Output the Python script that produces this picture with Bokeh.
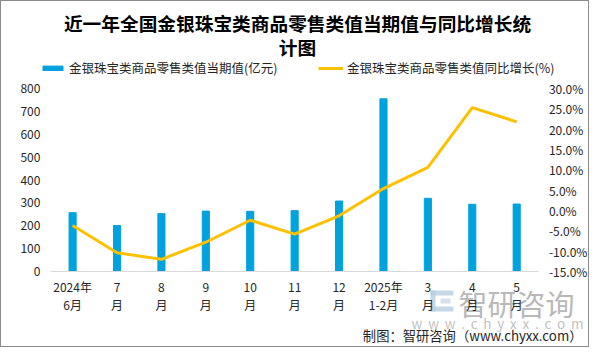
import numpy as np
from bokeh.plotting import figure
from bokeh.models import (Range1d, LinearAxis, Label, Legend, LegendItem, BoxAnnotation,
                          PrintfTickFormatter, FixedTicker, ColumnDataSource)
from bokeh.embed import file_html
from bokeh.resources import INLINE

# ---------------- data ----------------
categories = ["2024年\n6月", "7\n月", "8\n月", "9\n月", "10\n月", "11\n月",
              "12\n月", "2025年\n1-2月", "3\n月", "4\n月", "5\n月"]
retail_value = [257, 201, 253, 264, 263, 266, 308, 755, 320, 294, 295]   # 亿元
yoy_growth = [-3.7, -10.4, -12.0, -7.8, -2.4, -5.8, -1.3, 5.4, 10.6, 25.3, 21.8]  # %
left_ticks = [0, 100, 200, 300, 400, 500, 600, 700, 800]
right_ticks = [-15, -10, -5, 0, 5, 10, 15, 20, 25, 30]

title_lines = ["近一年全国金银珠宝类商品零售类值当期值与同比增长统", "计图"]
bar_name = "金银珠宝类商品零售类值当期值(亿元)"
line_name = "金银珠宝类商品零售类值同比增长(%)"
credit = "制图：智研咨询（www.chyxx.com）"
wm_name = "智研咨询"
wm_url = " \u2009".join("www.chyxx.com")

FONT = "Noto Sans CJK SC"
BAR_COLOR = "#00A2DE"
LINE_COLOR = "#FFC000"
TXT = "#262626"

# ---------------- layout (canvas pixels) ----------------
W, H = 589, 347
X_FIRST, X_STEP = 71.1, 44.41     # centre of first category, category pitch
Y_ZERO, Y_TOP = 270.0, 87.0       # baseline (0 / -15%) and top tick (800 / 30%)

L_MIN, L_MAX = left_ticks[0], left_ticks[-1]
R_MIN, R_MAX = right_ticks[0], right_ticks[-1]
lp = (L_MAX - L_MIN) / (Y_ZERO - Y_TOP)
rp = (R_MAX - R_MIN) / (Y_ZERO - Y_TOP)

x_range = Range1d(-X_FIRST / X_STEP, (W - X_FIRST) / X_STEP)
y_range = Range1d(L_MIN - (H - Y_ZERO) * lp, L_MAX + Y_TOP * lp)

idx = np.arange(len(categories))
src = ColumnDataSource(dict(x=idx, val=retail_value, yoy=yoy_growth))

p = figure(width=W, height=H, x_range=x_range, y_range=y_range,
           output_backend="svg", toolbar_location=None,
           min_border=0, x_axis_type=None, y_axis_type=None)
p.extra_y_ranges = {"pct": Range1d(R_MIN - (H - Y_ZERO) * rp, R_MAX + Y_TOP * rp)}
p.outline_line_color = None
p.grid.grid_line_color = None
p.styles = {"border": "1px solid #8c8c8c", "box-sizing": "border-box"}


def lab(x, y, text, size, color=TXT, bold=False, align="center", alpha=1.0, level="annotation"):
    # canvas px (from top-left) -> screen units (from bottom-left of frame = canvas)
    p.add_layout(Label(x=x, y=H - y, x_units="screen", y_units="screen",
                       text=text, text_font=FONT, text_font_size=f"{size}px",
                       text_font_style="bold" if bold else "normal",
                       text_color=color, text_alpha=alpha, level=level,
                       text_align=align, text_baseline="middle"))


def box(x0, y0, x1, y1, color, alpha):
    p.add_layout(BoxAnnotation(left=x0, right=x1, top=H - y0, bottom=H - y1,
                               left_units="screen", right_units="screen",
                               top_units="screen", bottom_units="screen",
                               fill_color=color, fill_alpha=alpha,
                               line_color=None, level="underlay"))


# watermark (drawn underneath everything)
WM_LOGO = "#b8cde0"
box(429, 289, 452, 294, WM_LOGO, 0.8)
box(429, 289, 434, 310, WM_LOGO, 0.8)
box(429, 305, 452, 310, WM_LOGO, 0.8)
box(439, 297, 449, 302, WM_LOGO, 0.6)
lab(515, 301, wm_name, 29, color="#a6a6a6", alpha=0.8, level="underlay")
lab(496, 321, wm_url, 13.5, color="#b0b0b0", alpha=0.8, level="underlay")

bars = p.vbar(x="x", top="val", width=0.16, color=BAR_COLOR, source=src)
line = p.line(x="x", y="yoy", y_range_name="pct", line_color=LINE_COLOR,
              line_width=3, source=src)


def style_axis(ax):
    ax.major_tick_line_color = None
    ax.minor_tick_line_color = None
    ax.major_tick_out = 0
    ax.major_tick_in = 0
    ax.minor_tick_out = 0
    ax.minor_tick_in = 0
    ax.major_label_text_font = FONT
    ax.major_label_text_font_size = "12px"
    ax.major_label_text_color = TXT


# bottom category axis, pinned at value 0
xa = LinearAxis(ticker=FixedTicker(ticks=list(idx)),
                major_label_overrides={int(i): c for i, c in zip(idx, categories)},
                fixed_location=0, bounds=(-0.5, len(categories) - 0.5))
style_axis(xa)
xa.axis_line_color = "#D9D9D9"
xa.major_label_standoff = 6
xa.major_label_text_line_height = 1.1
p.add_layout(xa, "below")

# left value axis
ya = LinearAxis(ticker=FixedTicker(ticks=left_ticks), fixed_location=-0.5)
style_axis(ya)
ya.axis_line_color = None
ya.major_label_standoff = 10
p.add_layout(ya, "left")

# right percentage axis
ra = LinearAxis(y_range_name="pct", ticker=FixedTicker(ticks=right_ticks),
                formatter=PrintfTickFormatter(format="%.1f%%"),
                fixed_location=len(categories) - 0.5)
style_axis(ra)
ra.axis_line_color = None
ra.major_label_standoff = 10
p.add_layout(ra, "right")

# title
lab(296, 21, title_lines[0], 18.7, color="#000000", bold=True)
lab(296, 45, title_lines[1], 18.7, color="#000000", bold=True)

# legends
for item_r, name, gx in ((bars, bar_name, 39), (line, line_name, 317)):
    lg = Legend(items=[LegendItem(label=name, renderers=[item_r])],
                location=(gx, H - 69 - 7), orientation="horizontal")
    lg.padding = 0
    lg.margin = 0
    lg.border_line_color = None
    lg.background_fill_alpha = 0
    lg.glyph_width = 25
    lg.glyph_height = 6
    lg.label_height = 14
    lg.label_standoff = 4
    lg.label_text_font = FONT
    lg.label_text_font_size = "12.5px"
    lg.label_text_color = TXT
    lg.label_text_baseline = "middle"
    p.add_layout(lg, "center")

# credit
lab(581, 334, credit, 13.3, color=TXT, align="right")

open("out.html", "w").write(file_html(p, INLINE))
